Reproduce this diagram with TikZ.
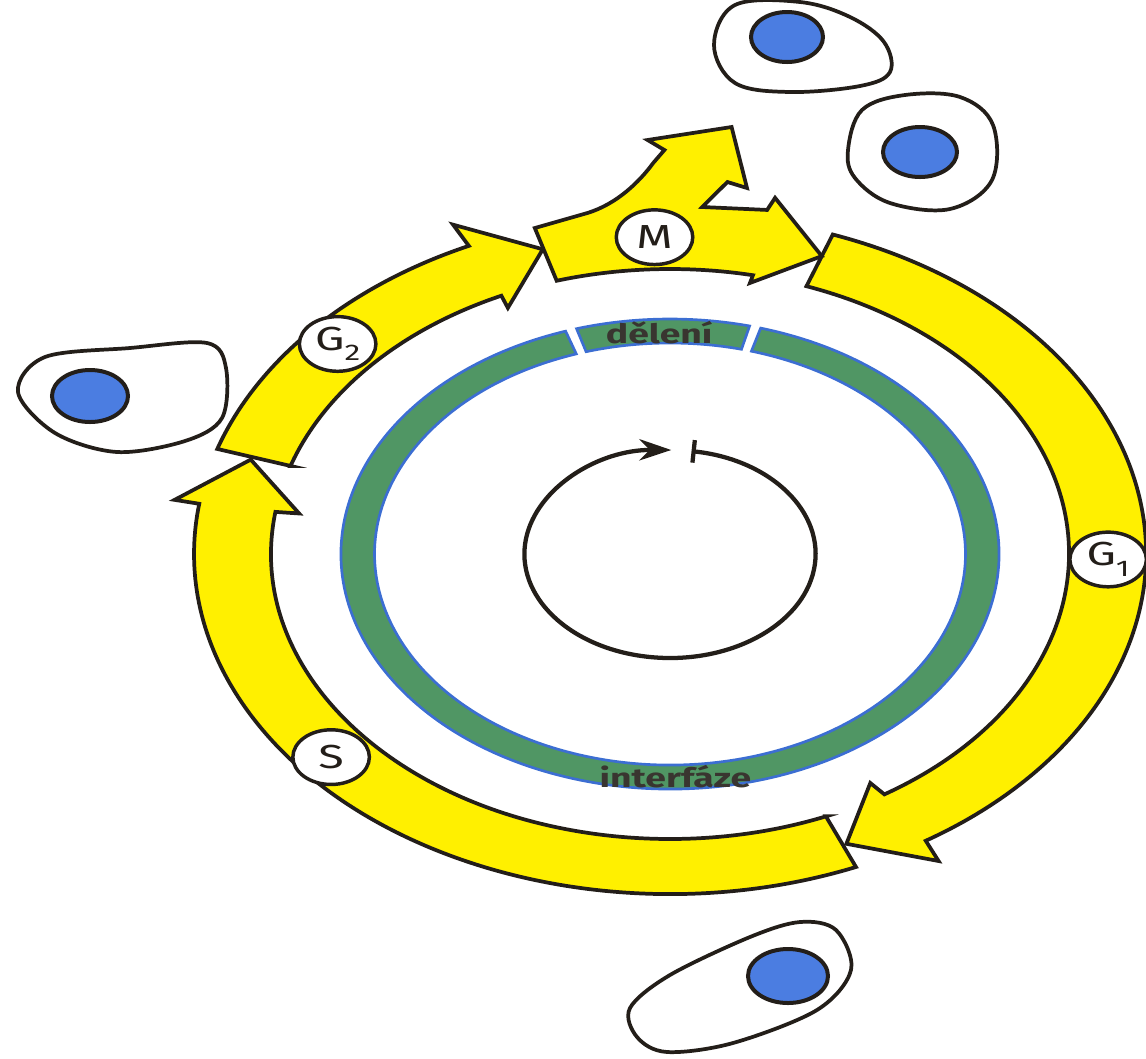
\documentclass[tikz,border=0pt]{standalone}
\usepackage{fontspec}
\setmainfont{Fira Sans}
\usepackage{tikz}
\usetikzlibrary{arrows.meta}

\definecolor{phaseyellow}{RGB}{255,240,0}
\definecolor{bandgreen}{RGB}{80,150,100}
\definecolor{bandblue}{RGB}{60,110,210}
\definecolor{nucleusblue}{RGB}{75,125,225}
\definecolor{inkline}{RGB}{35,30,25}

\newcommand{\phasesub}[1]{\raisebox{-0.6ex}{\fontsize{17}{17}\selectfont #1}}

\tikzset{
  phase arrow/.style={fill=phaseyellow, draw=inkline, line width=2.8pt, line join=miter},
  phase label/.style={circle, draw=inkline, fill=white, line width=2.6pt, minimum size=41pt, inner sep=0pt, text=inkline, font=\fontsize{25}{28}\selectfont},
  band/.style={fill=bandgreen, draw=bandblue, line width=2pt},
  band text/.style={inner sep=0.75pt, text=inkline!90, font=\fontsize{20}{23}\selectfont\bfseries},
  cell/.style={draw=inkline, line width=2.8pt, fill=white},
  nucleus/.style={draw=inkline, line width=3pt, fill=nucleusblue},
}

\begin{document}
\begin{tikzpicture}[x=0.75pt,y=0.75pt,yscale=-1,xscale=1]
\useasboundingbox (0,0) rectangle (1146,1058);

%Shape: Cell [top]
\draw [cell] plot [smooth cycle, tension=0.6] coordinates {(714,45) (735,5) (800,2) (850,17) (884,42) (890,72) (860,86) (790,92) (735,83)};
\draw [nucleus] (787,37) ellipse (36 and 25);
%Shape: Cell [right]
\draw [cell] plot [smooth cycle, tension=0.6] coordinates {(848,150) (862,110) (905,95) (960,97) (993,125) (992,180) (950,209) (890,203) (855,178)};
\draw [nucleus] (920,152) ellipse (37 and 25);
%Shape: Cell [left]
\draw [cell] plot [smooth cycle, tension=0.55] coordinates {(18,392) (45,357) (130,348) (207,343) (226,368) (222,418) (185,441) (117,452) (55,433)};
\draw [nucleus] (90,396) ellipse (38 and 26);
%Shape: Cell [bottom]
\draw [cell] plot [smooth cycle, tension=0.55] coordinates {(630,1008) (670,975) (750,937) (800,922) (836,930) (851,970) (817,1010) (733,1043) (667,1052) (637,1037)};
\draw [nucleus] (788,976) ellipse (40 and 27);

\begin{scope}[shift={(670,554)}, xscale=1.4, yscale=-1, transform shape]

%Shape: Band [interfaze]
\draw [band] (74:235) arc[start angle=74, end angle=-251.5, radius=235] -- (-251.5:211) arc[start angle=-251.5, end angle=74, radius=211] -- cycle;
%Shape: Band [deleni]
\draw [band] (106.5:235) arc[start angle=106.5, end angle=76, radius=235] -- (76:211) arc[start angle=76, end angle=106.5, radius=211] -- cycle;

%Shape: Arrow [G1]
\draw [phase arrow] (70:285) -- (70:340) arc[start angle=70, end angle=-57.5, radius=340] -- (-58:362) -- (-66.5:316) -- (-58:270) -- (-57.5:285) arc[start angle=-57.5, end angle=70, radius=285] -- cycle;
%Shape: Arrow [S]
\draw [phase arrow] (-67:285) -- (-67:340) arc[start angle=-67, end angle=-188.5, radius=340] -- (-188.7:358) -- (-197.5:314) -- (-188.7:268) -- (-188.5:285) arc[start angle=-188.5, end angle=-67, radius=285] -- cycle;
%Shape: Arrow [G2]
\draw [phase arrow] (162:285) -- (162:340) arc[start angle=162, end angle=115, radius=340] -- (115.2:364) -- (106.6:318) -- (115.2:272) -- (115:285) arc[start angle=115, end angle=162, radius=285] -- cycle;
%Shape: Arrow [M]
\draw [phase arrow] (106.5:285) -- (106.5:340) -- (-59,341) .. controls (-38,350) and (-22,372) .. (-12,391) -- (-4,404) -- (-16,414) -- (44,427) -- (55,366) -- (41,372) -- (23,347) -- (78.6:351) -- (78.1:364) -- (70:317) -- (78.1:277) -- (78:285) arc[start angle=78, end angle=106.5, radius=285] -- cycle;

%Straight Lines: cycle
\draw [line width=3.2pt, draw=inkline, {Bar[width=17pt]}-{Stealth[length=24pt,width=16pt]}] (81.5:104) arc[start angle=81.5, end angle=-270.5, radius=104];

% Text Node
\node [phase label] (m) at (92:317) {M};
% Text Node
\node [phase label] (g2) at (138.5:317) {G\phasesub{2}};
% Text Node
\node [phase label] (g1) at (-1:313) {G\phasesub{1}};
% Text Node
\node [phase label] (s) at (220:316) {S};
% Text Node
\node [band text] (deleni) at (92:222) {dělení};
% Text Node
\node [band text] (interfaze) at (-89:223) {interfáze};

\end{scope}
\end{tikzpicture}
\end{document}
